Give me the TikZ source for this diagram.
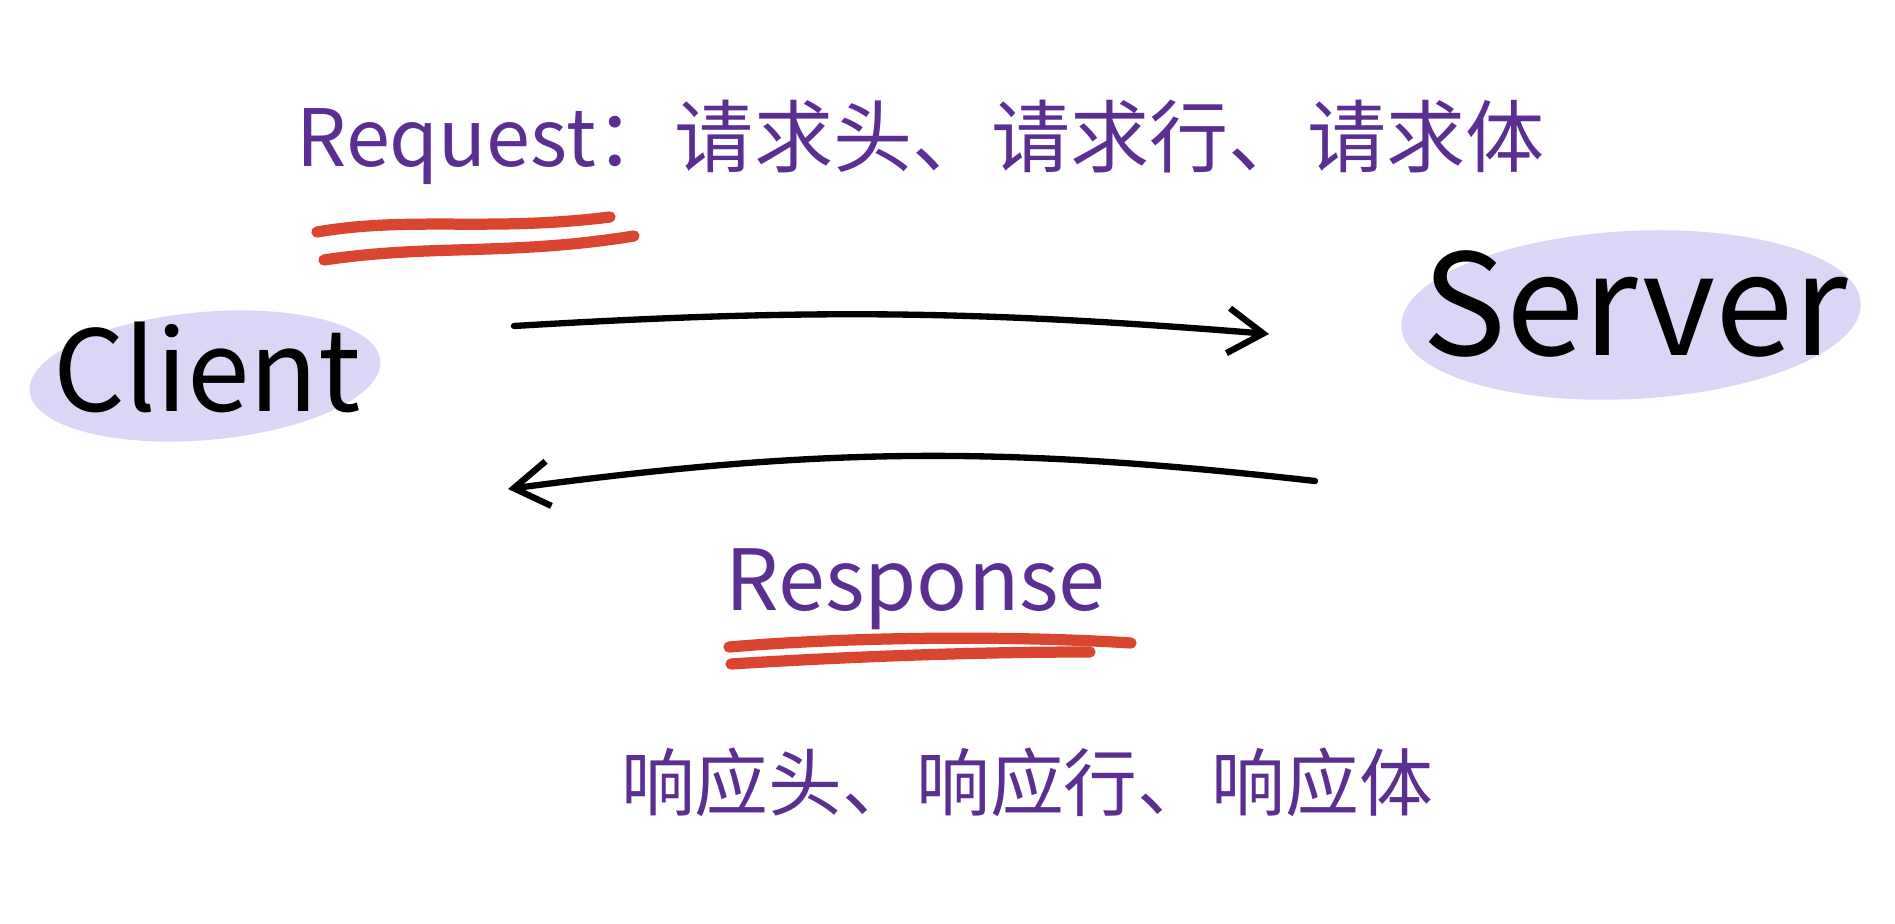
\documentclass[tikz,border=0pt]{standalone}
\usepackage{fontspec}
\setmainfont{Noto Sans CJK SC}
\usetikzlibrary{positioning,arrows.meta}

\definecolor{inkpurple}{RGB}{91,47,145}
\definecolor{inkred}{RGB}{217,69,47}
\definecolor{blobfill}{RGB}{218,214,245}

\begin{document}
\begin{tikzpicture}[x=1cm, y=1cm,
                    hostlabel/.style={font=\fontsize{32}{38}\selectfont, text=black, inner sep=0pt},
                    note/.style={font=\fontsize{22.5}{27}\selectfont, text=inkpurple, inner sep=0pt},
                    blob/.style={fill=blobfill},
                    flow/.style={line width=1.8pt, line cap=round, -{Straight Barb[length=3.5mm,width=4.5mm]}},
                    hilite/.style={inkred, line width=3.2pt, line cap=round}]

\useasboundingbox (0,0) rectangle (18.95,-9.24);

% lavender blobs behind the two ends
\fill[blob, rotate around={5:(2.05,-3.76)}] (2.05,-3.76) ellipse [x radius=1.76, y radius=0.64];
\fill[blob, rotate around={3:(16.31,-3.15)}] (16.31,-3.15) ellipse [x radius=2.30, y radius=0.84];

\node[hostlabel] (client) at (2.07,-3.67) {Client};
\node[hostlabel, font=\fontsize{40}{46}\selectfont] (server) at (16.35,-3.04) {Server};

\node[note, anchor=west] (req) at (2.96,-1.42) {Request：请求头、请求行、请求体};
\node[note, font=\fontsize{24}{28}\selectfont, anchor=base west] (resp) at (7.25,-6.10) {Response};
\node[note, font=\fontsize{21}{25}\selectfont] (respparts) at (10.27,-7.82) {响应头、响应行、响应体};

% arrow ends
\coordinate (reqfrom) at (5.14,-3.26);
\coordinate (reqto) at (12.69,-3.34);
\coordinate (respfrom) at (13.15,-4.81);
\coordinate (respto) at (5.08,-4.89);

\draw[flow] (reqfrom) to[bend left=4] (reqto);
\draw[flow] (respfrom) to[bend right=7] (respto);

% red underlines
\draw[hilite] (3.17,-2.32) .. controls (4.1,-2.16) and (4.9,-2.32) .. (6.10,-2.17);
\draw[hilite] (3.24,-2.60) .. controls (4.3,-2.44) and (5.1,-2.56) .. (6.34,-2.36);
\draw[hilite] (7.29,-6.47) .. controls (8.6,-6.36) and (10.2,-6.36) .. (11.31,-6.43);
\draw[hilite] (7.31,-6.64) .. controls (8.6,-6.56) and (9.8,-6.52) .. (10.90,-6.52);
\end{tikzpicture}
\end{document}
